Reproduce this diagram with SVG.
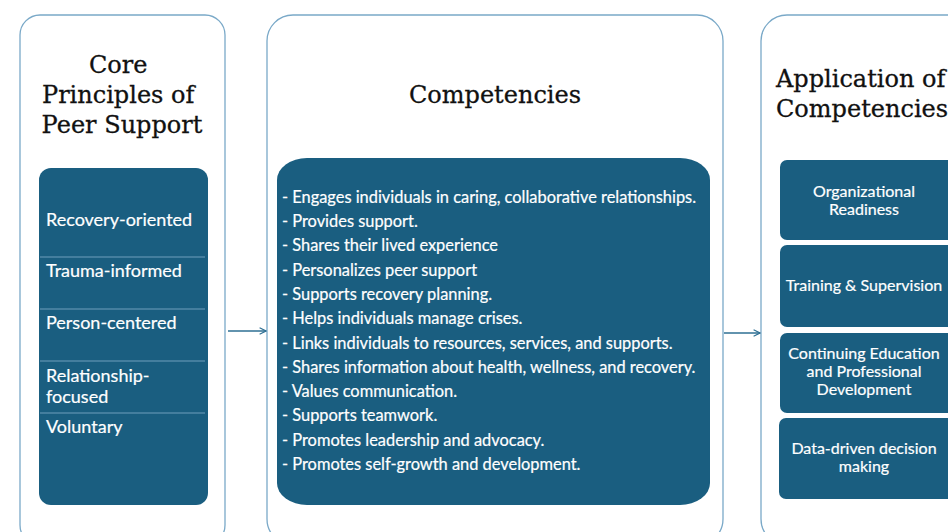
<svg xmlns="http://www.w3.org/2000/svg" width="948" height="532" viewBox="0 0 948 532">
  <defs>
    <style>
      .panel { fill: #ffffff; stroke: #7aa9c8; stroke-width: 1.3; }
      .box { fill: #1a5e80; }
      .div { stroke: #6f9dbb; stroke-width: 1.2; }
      .title { font-family: "DejaVu Serif", "Liberation Serif", serif; font-size: 24px; fill: #111111; stroke: #111111; stroke-width: 0.3; }
      .item { font-family: Lato, "Liberation Sans", sans-serif; font-size: 16.4px; fill: #ffffff; stroke: #ffffff; stroke-width: 0.2; }
      .principle { font-size: 18px; }
      .cap { font-family: Lato, "Liberation Sans", sans-serif; font-size: 16px; fill: #ffffff; stroke: #ffffff; stroke-width: 0.2; text-anchor: middle; }
      .conn { stroke: #2e6f93; stroke-width: 1.4; fill: none; }
    </style>
    <marker id="arrow" viewBox="0 0 10 10" refX="9" refY="5" markerWidth="8" markerHeight="8" orient="auto" markerUnits="userSpaceOnUse">
      <path d="M1,1 L9,5 L1,9" fill="none" stroke="#2e6f93" stroke-width="1.4"/>
    </marker>
  </defs>
  <rect width="948" height="532" fill="#ffffff"/>

  <!-- Core principles column -->
  <g id="principles">
    <rect class="panel" x="20" y="15" width="205" height="530" rx="20"/>
    <text class="title" text-anchor="middle">
      <tspan x="122" y="73">Core</tspan>
      <tspan x="122" y="103">Principles of</tspan>
      <tspan x="122" y="133">Peer Support</tspan>
    </text>
    <rect class="box" x="39" y="168" width="169" height="337" rx="12"/>
    <line class="div" x1="40" y1="257" x2="205" y2="257"/>
    <line class="div" x1="40" y1="309" x2="205" y2="309"/>
    <line class="div" x1="40" y1="361" x2="205" y2="361"/>
    <line class="div" x1="40" y1="413" x2="205" y2="413"/>
    <text class="item principle" x="46" y="226">Recovery-oriented</text>
    <text class="item principle" x="46" y="277">Trauma-informed</text>
    <text class="item principle" x="46" y="329">Person-centered</text>
    <text class="item principle" x="46" y="382">Relationship-</text>
    <text class="item principle" x="46" y="403">focused</text>
    <text class="item principle" x="46" y="433">Voluntary</text>
  </g>

  <!-- Competencies column -->
  <g id="competencies">
    <rect class="panel" x="267" y="15" width="456" height="530" rx="26"/>
    <text class="title" x="495" y="103" text-anchor="middle">Competencies</text>
    <rect class="box" x="277" y="158" width="433" height="347" rx="30" ry="22"/>
    <text class="item">
      <tspan x="282" y="203">- Engages individuals in caring, collaborative relationships.</tspan>
      <tspan x="282" y="227">- Provides support.</tspan>
      <tspan x="282" y="251">- Shares their lived experience</tspan>
      <tspan x="282" y="276">- Personalizes peer support</tspan>
      <tspan x="282" y="300">- Supports recovery planning.</tspan>
      <tspan x="282" y="324">- Helps individuals manage crises.</tspan>
      <tspan x="282" y="349">- Links individuals to resources, services, and supports.</tspan>
      <tspan x="282" y="373">- Shares information about health, wellness, and recovery.</tspan>
      <tspan x="282" y="397">- Values communication.</tspan>
      <tspan x="282" y="421">- Supports teamwork.</tspan>
      <tspan x="282" y="446">- Promotes leadership and advocacy.</tspan>
      <tspan x="282" y="470">- Promotes self-growth and development.</tspan>
    </text>
  </g>

  <!-- Application column -->
  <g id="application">
    <rect class="panel" x="761" y="15" width="220" height="530" rx="26"/>
    <text class="title">
      <tspan x="776" y="87">Application of</tspan>
      <tspan x="776" y="117">Competencies</tspan>
    </text>
  </g>
  <g id="readiness">
    <rect class="box" x="780" y="160" width="180" height="80" rx="7"/>
    <text class="cap"><tspan x="864" y="197">Organizational</tspan><tspan x="864" y="215">Readiness</tspan></text>
  </g>
  <g id="training">
    <rect class="box" x="780" y="245" width="180" height="82" rx="7"/>
    <text class="cap" x="864" y="291">Training &amp; Supervision</text>
  </g>
  <g id="education">
    <rect class="box" x="780" y="333" width="180" height="80" rx="7"/>
    <text class="cap"><tspan x="864" y="359">Continuing Education</tspan><tspan x="864" y="377">and Professional</tspan><tspan x="864" y="395">Development</tspan></text>
  </g>
  <g id="datadriven">
    <rect class="box" x="779" y="418" width="180" height="81" rx="7"/>
    <text class="cap"><tspan x="864" y="454">Data-driven decision</tspan><tspan x="864" y="472">making</tspan></text>
  </g>

  <!-- Connectors -->
  <g id="connectors">
    <line class="conn" x1="228" y1="331" x2="266" y2="331" marker-end="url(#arrow)"/>
    <line class="conn" x1="724" y1="333" x2="760" y2="333" marker-end="url(#arrow)"/>
  </g>
</svg>
